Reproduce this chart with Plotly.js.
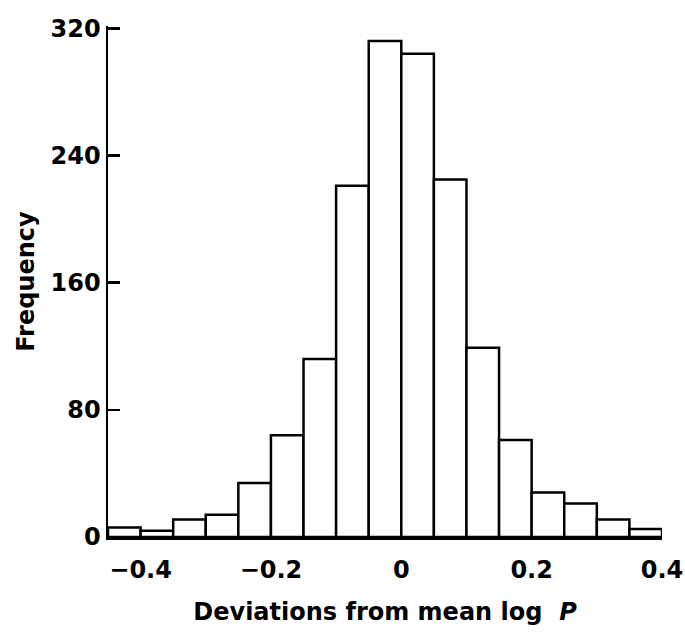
<!DOCTYPE html>
<html>
<head>
<meta charset="utf-8">
<script src="https://cdn.plot.ly/plotly-3.0.1.min.js"></script>
<style>
html,body{margin:0;padding:0;background:#fff;}
#chart{width:685px;height:632px;}
</style>
</head>
<body>
<div id="chart"></div>
<script>
// Histogram bins (centres, width 0.05) and frequencies
var binCenters = [-0.425, -0.375, -0.325, -0.275, -0.225, -0.175, -0.125, -0.075, -0.025,
                  0.025, 0.075, 0.125, 0.175, 0.225, 0.275, 0.325, 0.375];
var counts = [6, 4, 11, 14, 34, 64, 112, 221, 312, 304, 225, 119, 61, 28, 21, 11, 5];
var xTicks = [-0.4, -0.2, 0, 0.2, 0.4];
var xTickLabels = ['\u22120.4', '\u22120.2', '0', '0.2', '0.4'];
var yTicks = [0, 80, 160, 240, 320];

var FONT = 'DejaVu Sans, Verdana, sans-serif';

var trace = {
  type: 'bar',
  x: binCenters,
  y: counts,
  marker: {color: '#ffffff', line: {color: '#000000', width: 2.5}},
  hoverinfo: 'none'
};

var layout = {
  width: 685,
  height: 632,
  margin: {l: 108, r: 23, t: 26, b: 95},
  paper_bgcolor: '#ffffff',
  plot_bgcolor: '#ffffff',
  showlegend: false,
  bargap: 0,
  font: {family: FONT, color: '#000000', size: 24},
  xaxis: {
    range: [-0.45, 0.40],
    tickvals: xTicks,
    ticktext: xTickLabels,
    ticks: '',
    showline: true,
    linecolor: '#000000',
    linewidth: 2.5,
    showgrid: false,
    zeroline: false,
    ticklabeloverflow: 'allow',
    ticklabelstandoff: 10,
    tickfont: {family: FONT, size: 24, color: '#000000', weight: 'bold'},
    title: {text: '<b>Deviations from mean log  <i>P</i></b>', font: {family: FONT, size: 24, color: '#000000'}, standoff: 20}
  },
  yaxis: {
    range: [0, 321.5],
    tickvals: yTicks,
    ticks: 'inside',
    ticklen: 12,
    tickwidth: 2.5,
    tickcolor: '#000000',
    showline: true,
    linecolor: '#000000',
    linewidth: 2.5,
    showgrid: false,
    zeroline: false,
    tickfont: {family: FONT, size: 24, color: '#000000', weight: 'bold'},
    title: {text: '<b>Frequency</b>', font: {family: FONT, size: 24, color: '#000000'}, standoff: 9}
  }
};

Plotly.newPlot('chart', [trace], layout, {displayModeBar: false, staticPlot: true});
</script>
</body>
</html>
